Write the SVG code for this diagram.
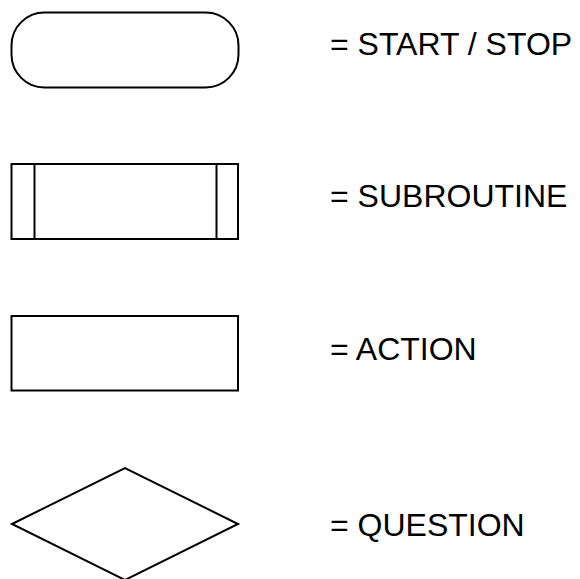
<svg xmlns="http://www.w3.org/2000/svg" width="580" height="579" viewBox="0 0 580 579">
<style>
.s{fill:#fff;stroke:#000;stroke-width:2}
.t{font-family:"Liberation Sans",Arial,sans-serif;font-size:32px;fill:#000}
</style>
<rect width="580" height="579" fill="#fff"/>
<g id="start-stop">
<rect class="s" x="11.5" y="12.5" width="227" height="75" rx="33" ry="33"/>
<text class="t" x="330" y="55">= START / STOP</text>
</g>
<g id="subroutine">
<rect class="s" x="11.5" y="164" width="226.5" height="75"/>
<line class="s" x1="34.5" y1="164" x2="34.5" y2="239"/>
<line class="s" x1="216.5" y1="164" x2="216.5" y2="239"/>
<text class="t" x="330" y="207">= SUBROUTINE</text>
</g>
<g id="action">
<rect class="s" x="11.5" y="316" width="226.5" height="74.5"/>
<text class="t" x="330" y="360">= ACTION</text>
</g>
<g id="question">
<polygon class="s" points="12,524 125,468 238,524 125,580"/>
<text class="t" x="330" y="536">= QUESTION</text>
</g>
<g id="connectors"/>
</svg>
